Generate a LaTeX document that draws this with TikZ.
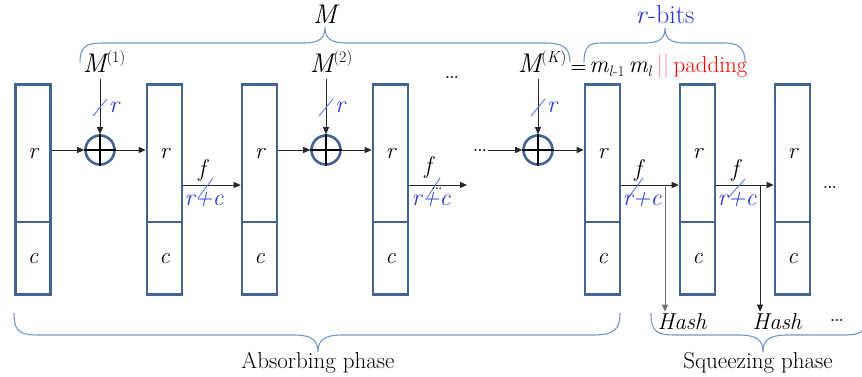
\documentclass[tikz,border=0pt]{standalone}
\usepackage{fontspec}
\usetikzlibrary{arrows.meta}
\definecolor{boxblue}{RGB}{65,100,145}
\definecolor{braceblue}{RGB}{115,150,200}
\definecolor{txtblue}{RGB}{40,50,215}
\definecolor{slashblue}{RGB}{90,120,235}
\definecolor{padred}{RGB}{255,0,0}
\definecolor{barpink}{RGB}{255,140,160}
\newcommand\myfs[1]{\fontsize{#1}{#1}\selectfont}
\begin{document}
\begin{tikzpicture}[x=1pt,y=-1pt,
  rpart/.style={draw=boxblue, line width=2.6pt, minimum width=35pt, minimum height=137.5pt, inner sep=0pt, font=\myfs{23}\itshape},
  cpart/.style={draw=boxblue, line width=2.6pt, minimum width=35pt, minimum height=72.5pt, inner sep=0pt, font=\myfs{23}\itshape},
  xor/.style={circle, draw=boxblue, line width=2.6pt, minimum size=29pt, inner sep=0pt},
  cross/.style={line width=2.4pt, black},
  arr/.style={-{Triangle[length=7pt,width=6pt]}, line width=0.9pt, black!85},
  slash/.style={draw=slashblue, line width=0.9pt},
  brace/.style={draw=braceblue, line width=1.1pt},
  mlbl/.style={anchor=base, inner sep=0pt},
  blbl/.style={font=\myfs{24}\itshape, text=txtblue, inner sep=0pt},
  flbl/.style={font=\myfs{24}\itshape, inner sep=0pt},
  dots/.style={font=\bfseries\myfs{14}, inner sep=1pt},
  hashlbl/.style={font=\myfs{23}\itshape, inner sep=2pt},
  phase/.style={font=\myfs{23}, inner sep=0pt}
]
\useasboundingbox (0,0) rectangle (862,377);

% boxes
\foreach \n/\x in {1/33,2/164.5,3/259.5,4/390.5,5/602.5,6/697.5,7/792.5}{
  \node[rpart] (b\n r) at (\x,153.25) {r};
  \node[cpart] (b\n c) at (\x,258.25) {c};
}

% xor circles
\node[xor] (x1) at (100,150) {};
\node[xor] (x2) at (326,150) {};
\node[xor] (x3) at (538,150) {};
\foreach \k in {1,2,3}{
  \draw[cross] (x\k.north) -- (x\k.south);
  \draw[cross] (x\k.west) -- (x\k.east);
}

% message blocks
\node[mlbl] (m1) at (104,73) {{\myfs{27}\itshape M}\raisebox{10pt}{\myfs{16}(1)}};
\node[mlbl] (m2) at (331,73) {{\myfs{27}\itshape M}\raisebox{10pt}{\myfs{16}(2)}};
\node[mlbl] (mK) at (542,73) {{\myfs{27}\itshape M}\raisebox{10pt}{\myfs{16}(\textit{K})}};
\node[anchor=base west, inner sep=0pt] (eq) at ([xshift=4pt]mK.base east)
  {{\bfseries\myfs{18}=}\hspace{3pt}{\myfs{24}\itshape m}\raisebox{-4pt}{\myfs{15}\textit{l}-1}\hspace{4pt}{\myfs{24}\itshape m}\raisebox{-4pt}{\myfs{15}\textit{l}}\hspace{4pt}\textcolor{barpink}{\myfs{24}\textbar\textbar}\hspace{4pt}\textcolor{padred}{\myfs{23}padding}};

\draw[arr] ([yshift=-6pt]m1.south -| x1.north) -- (x1.north);
\draw[arr] ([yshift=-6pt]m2.south -| x2.north) -- (x2.north);
\draw[arr] ([yshift=-6pt]mK.south -| x3.north) -- (x3.north);
\draw[slash] (93,116) -- (107,99);
\draw[slash] (319,116) -- (333,99);
\draw[slash] (531,116) -- (545,99);
\node[blbl] (lr1) at (114,107) {r};
\node[blbl] (lr2) at (340,107) {r};
\node[blbl] (lr3) at (552,107) {r};

% absorbing arrows
\draw[arr] (b1r.east |- x1.west) -- (x1.west);
\draw[arr] (x1.east) -- (b2r.west |- x1.east);
\draw[arr] (b3r.east |- x2.west) -- (x2.west);
\draw[arr] (x2.east) -- (b4r.west |- x2.east);
\node[dots] (d2) at (480,150) {...};
\draw[arr] (d2.east |- x3.west) -- (x3.west);
\draw[arr] (x3.east) -- (b5r.west |- x3.east);

% f arrows
\draw[arr] ([yshift=-31.75pt]b2r.east) -- ([yshift=-31.75pt]b3r.west);
\coordinate (e4) at (467,185);
\draw[arr] (b4r.east |- e4) -- (e4);
\draw[arr] ([yshift=-31.75pt]b5r.east) -- ([yshift=-31.75pt]b6r.west);
\draw[arr] ([yshift=-31.75pt]b6r.east) -- ([yshift=-31.75pt]b7r.west);

\draw[slash] (198,198) -- (213,178);
\draw[slash] (427,198) -- (440,178);
\draw[slash] (628,198) -- (643,178);
\draw[slash] (728,198) -- (745,179);
\node[flbl] (f1) at (202,170) {f};
\node[flbl] (f2) at (428,168) {f};
\node[flbl] (f3) at (638,170) {f};
\node[flbl] (f4) at (735,170) {f};
\node[blbl] (rc1) at (204,200) {r+c};
\node[blbl] (rc2) at (431,200) {r+c};
\node[blbl] (rc3) at (642,200) {r+c};
\node[blbl] (rc4) at (737,200) {r+c};
\node[dots, font=\bfseries\myfs{11}] (d3) at (437,189) {...};

% squeezing outputs
\node[hashlbl] (h1) at (682,322) {Hash};
\node[hashlbl] (h2) at (777,322) {Hash};
\coordinate (s5) at (665,185);
\coordinate (s6) at (760,185);
\draw[arr, black!55] (s5) -- (s5 |- h1.north);
\draw[arr] (s6) -- (s6 |- h2.north);

% dots
\node[dots] (d1) at (452,77) {...};
\node[dots] (d4) at (830,187) {...};
\node[dots] (d5) at (837,320) {...};

% braces
\draw[brace] (80,62) .. controls (80,43) and (90,43) .. (108,43) -- (303,43)
  .. controls (320,43) and (325,38) .. (325,27) .. controls (325,38) and (330,43) .. (347,43)
  -- (545,43) .. controls (563,43) and (570,48) .. (570,62);
\node[font=\myfs{27}\itshape, inner sep=0pt] (Mlbl) at (325,14) {M};

\draw[brace] (584,62) .. controls (584,43) and (592,43) .. (605,43) -- (645,43)
  .. controls (660,43) and (665,38) .. (665,28) .. controls (665,38) and (670,43) .. (685,43)
  -- (725,43) .. controls (740,43) and (745,50) .. (745,62);
\node[inner sep=0pt, text=txtblue, font=\myfs{26}] (rbits) at (665,15) {\textit{r}-bits};

\draw[brace] (14,313) .. controls (14,335) and (22,335) .. (45,335) -- (293,335)
  .. controls (312,335) and (318,340) .. (318,352) .. controls (318,340) and (324,335) .. (343,335)
  -- (592,335) .. controls (614,335) and (620,330) .. (620,313);
\node[phase] (abs) at (318,363) {Absorbing phase};

\begin{scope}
\clip (0,0) rectangle (862,377);
\draw[brace] (651,313) .. controls (651,335) and (659,335) .. (680,335) -- (738,335)
  .. controls (757,335) and (763,340) .. (763,352) .. controls (763,340) and (769,335) .. (788,335)
  -- (845,335) .. controls (862,335) and (868,330) .. (868,313);
\end{scope}
\node[phase] (sq) at (758,363) {Squeezing phase};
\end{tikzpicture}
\end{document}
